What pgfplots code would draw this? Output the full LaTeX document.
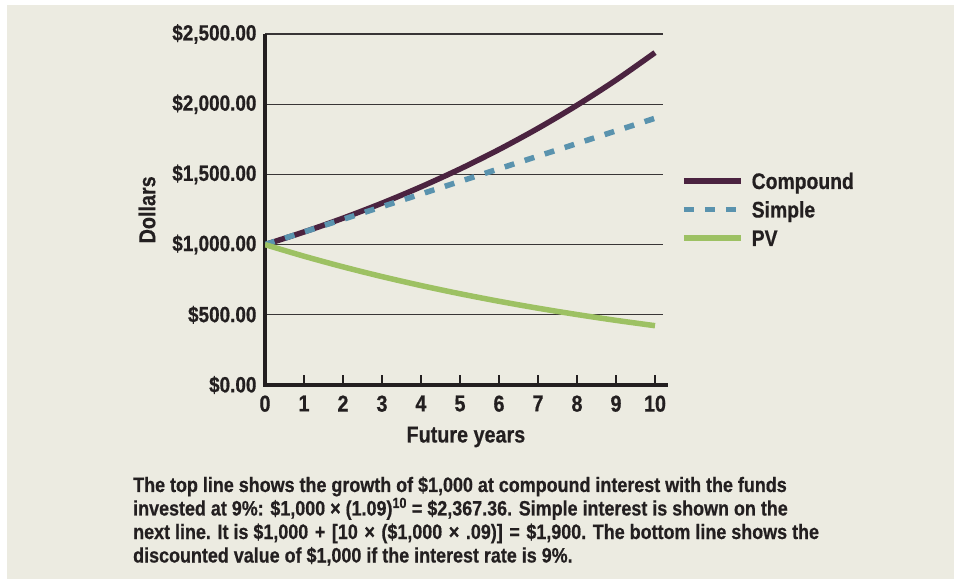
\documentclass[border=0pt]{standalone}
\usepackage{fontspec}
\setmainfont{Liberation Sans}[FakeStretch=0.86, BoldFeatures={FakeBold=0.6}]
\usepackage{pgfplots}
\pgfplotsset{compat=1.18}
\definecolor{bg}{RGB}{236,235,225}
\definecolor{txt}{RGB}{35,31,32}
\definecolor{comp}{RGB}{75,35,64}
\definecolor{simp}{RGB}{90,147,174}
\definecolor{pv}{RGB}{157,193,99}
\newcommand{\op}[1]{\hspace{1.6pt}#1\hspace{1.6pt}}
\begin{document}
\begin{tikzpicture}[x=1pt,y=1pt]
\useasboundingbox (0,0) rectangle (954,579);
\fill[white] (0,0) rectangle (954,579);
\fill[bg] (7,0) rectangle (954,574);
\begin{axis}[
  at={(265pt,194pt)}, anchor=south west,
  scale only axis, width=397.8pt, height=351pt,
  xmin=0, xmax=10.2, ymin=0, ymax=2500,
  axis lines=left,
  axis line style={-, line width=3.5pt, color=txt, shorten <=-1.75pt},
  x axis line style={shorten >=-5pt},
  xtick={0,1,2,3,4,5,6,7,8,9,10},
  xticklabels={0,1,2,3,4,5,6,7,8,9,10},
  ytick={0,500,1000,1500,2000,2500},
  yticklabels={{\$0.00},{\$500.00},{\$1,000.00},{\$1,500.00},{\$2,000.00},{\$2,500.00}},
  xtick align=inside,
  major tick length=10pt,
  xtick style={line width=1.2pt, color=txt},
  ytick style={draw=none},
  tick label style={font=\fontsize{22}{22}\selectfont\bfseries, text=txt},
  xticklabel style={yshift=-7pt, font=\fontsize{23}{23}\selectfont\bfseries},
  ymajorgrids,
  grid style={line width=1.2pt, color=txt!90},
  xlabel={Future years},
  xlabel style={at={(axis description cs:0.505,-0.148)}, anchor=center, font=\fontsize{23}{23}\selectfont\bfseries, text=txt},
  ylabel={Dollars},
  ylabel style={at={(axis description cs:-0.2966,0.499)}, anchor=center, font=\fontsize{23}{23}\selectfont\bfseries, text=txt},
  legend style={at={(axis description cs:1.0458,0.4929)}, anchor=west, draw=none, fill=none, inner sep=0pt,
    font=\fontsize{22.5}{22.5}\selectfont\bfseries, text=txt, row sep=7.5pt, column sep=8pt,
    nodes={inner sep=0pt, text height=16pt, text depth=5pt}},
  legend cell align=left,
  legend image code/.code={\draw[#1] (0pt,2.5pt) -- (57pt,2.5pt);},
  no marks,
]
\addplot[comp, line width=5.5pt, smooth] coordinates {(0,1000) (1,1090) (2,1188.1) (3,1295.03) (4,1411.58) (5,1538.62) (6,1677.10) (7,1828.04) (8,1992.56) (9,2171.89) (10,2367.36)};
\addlegendentry{Compound}
\addplot[simp, line width=5.5pt, dash pattern=on 10pt off 11pt] coordinates {(0,1000) (1,1090) (2,1180) (3,1270) (4,1360) (5,1450) (6,1540) (7,1630) (8,1720) (9,1810) (10,1900)};
\addlegendentry{Simple}
\addplot[pv, line width=5.5pt, smooth] coordinates {(0,1000) (1,917.43) (2,841.68) (3,772.18) (4,708.43) (5,649.93) (6,596.27) (7,547.03) (8,501.87) (9,460.43) (10,422.41)};
\addlegendentry{PV}
\end{axis}
\begin{scope}[every node/.style={anchor=base west, font=\fontsize{20.85}{23}\selectfont\bfseries, text=txt, inner sep=0pt}]
\node at (133,87) {The top line shows the growth of \$1,000 at compound interest with the funds};
\node at (133,63.5) {invested at 9\%: \$1,000 × (1.09)\textsuperscript{10} = \$2,367.36. Simple interest is shown on the};
\node at (133,40) {next line. It is \$1,000 \op{+} [10 \op{×} (\$1,000 \op{×} .09)] \op{=} \$1,900. The bottom line shows the};
\node at (133,16.5) {discounted value of \$1,000 if the interest rate is 9\%.};
\end{scope}
\end{tikzpicture}
\end{document}
